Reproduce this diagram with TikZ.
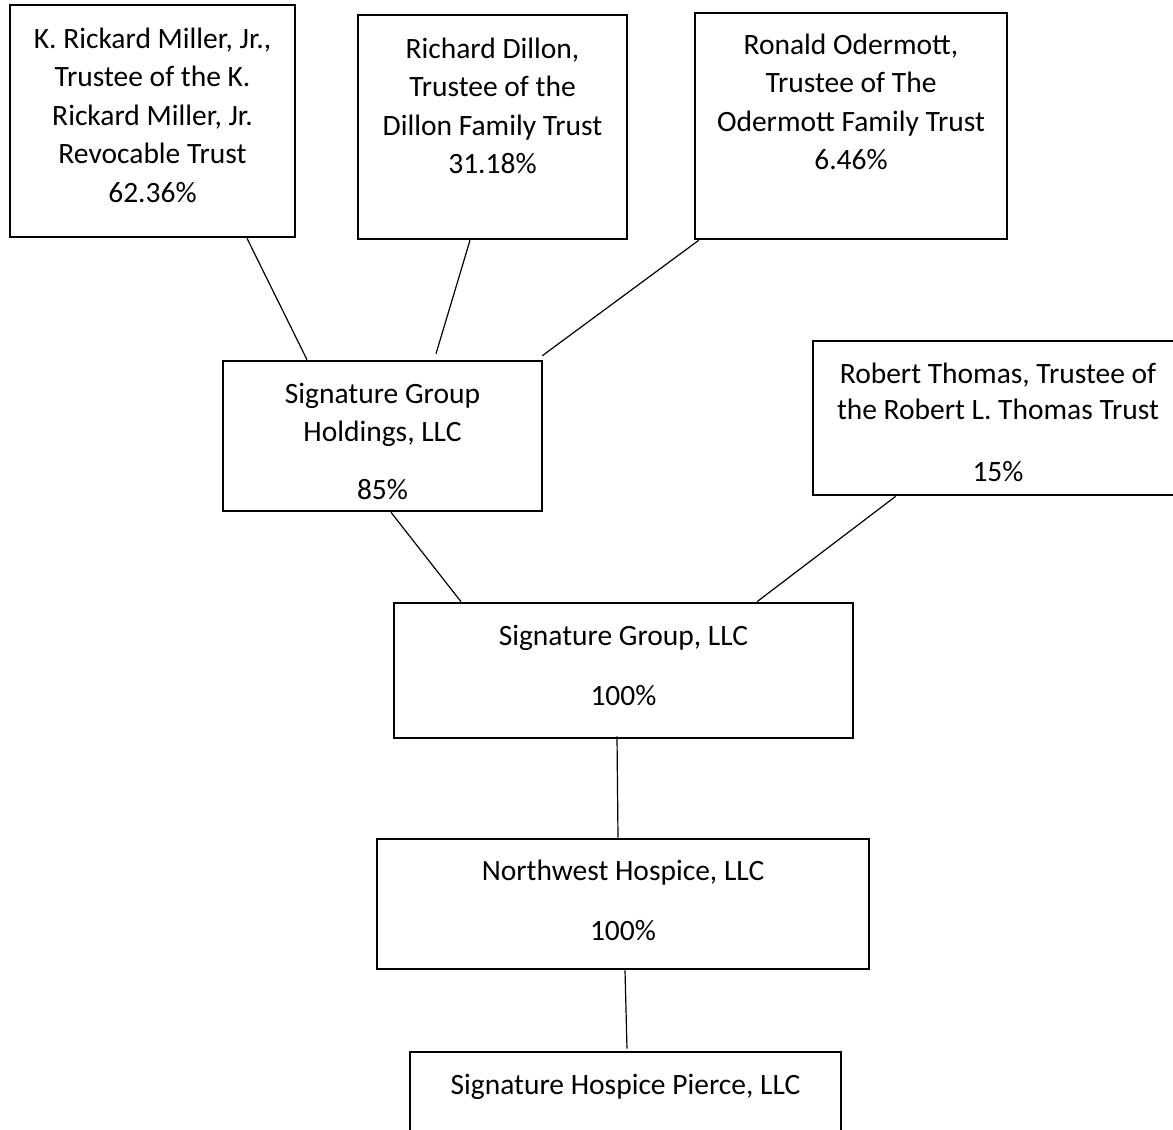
\documentclass[tikz,border=0pt]{standalone}
\usepackage{fontspec}
\setmainfont{Carlito}
\usepackage{tikz}

\tikzset{
  owner/.style={draw, line width=1.3pt, inner sep=0pt},
  ownertext/.style={anchor=north, align=center, inner sep=0pt,
    font=\fontsize{14.75}{19.25}\selectfont},
  link/.style={line width=0.6pt}
}

\begin{document}
\begin{tikzpicture}[x=0.5pt, y=-0.5pt]
    \useasboundingbox (0, 0) rectangle (1173, 1130);

    \node[owner, minimum width=142.5pt, minimum height=116pt] (miller) at (152.5, 121) {};
    \node[owner, minimum width=134.5pt, minimum height=112pt] (dillon) at (492.5, 127) {};
    \node[owner, minimum width=156pt, minimum height=113pt] (odermott) at (851, 126) {};
    \node[owner, minimum width=159.5pt, minimum height=75pt] (sgh) at (382.5, 436) {};
    \node[owner, minimum width=185pt, minimum height=77pt] (thomas) at (998, 418) {};
    \node[owner, minimum width=229.5pt, minimum height=67.5pt] (sg) at (623.5, 670.5) {};
    \node[owner, minimum width=246pt, minimum height=65pt] (nw) at (623, 904) {};
    \node[owner, minimum width=215.5pt, minimum height=54pt] (pierce) at (625.5, 1106) {};

    \node[ownertext] (millertext) at ([yshift=-11.75pt]miller.north)
      {K. Rickard Miller, Jr.,\\Trustee of the K.\\Rickard Miller, Jr.\\Revocable Trust\\62.36\%};
    \node[ownertext] (dillontext) at ([yshift=-11.75pt]dillon.north)
      {Richard Dillon,\\Trustee of the\\Dillon Family Trust\\31.18\%};
    \node[ownertext] (odermotttext) at ([yshift=-10.75pt]odermott.north)
      {Ronald Odermott,\\Trustee of The\\Odermott Family Trust\\6.46\%};
    \node[ownertext] (sghtext) at ([yshift=-11.5pt]sgh.north)
      {Signature Group\\Holdings, LLC\\[9.5pt]85\%};
    \node[ownertext, font=\fontsize{14.75}{18}\selectfont] (thomastext) at ([yshift=-11.5pt]thomas.north)
      {Robert Thomas, Trustee of\\the Robert L. Thomas Trust\\[13pt]15\%};
    \node[ownertext] (sgtext) at ([yshift=-11.5pt]sg.north)
      {Signature Group, LLC\\[10.75pt]100\%};
    \node[ownertext] (nwtext) at ([yshift=-10.75pt]nw.north)
      {Northwest Hospice, LLC\\[10.75pt]100\%};
    \node[ownertext] (piercetext) at ([yshift=-11.5pt]pierce.north)
      {Signature Hospice Pierce, LLC};

    \draw[link] ([xshift=47.25pt]miller.south) -- ([xshift=-37.75pt]sgh.north);
    \draw[link] ([xshift=-11.25pt]dillon.south) -- ([xshift=26.75pt, yshift=3pt]sgh.north);
    \draw[link] ([xshift=2.5pt]odermott.south west) -- ([xshift=-0.5pt, yshift=2pt]sgh.north east);
    \draw[link] ([xshift=4.25pt]sgh.south) -- ([xshift=-81.25pt]sg.north);
    \draw[link] ([xshift=42pt]thomas.south west) -- ([xshift=66.75pt]sg.north);
    \draw[link] ([xshift=-3.25pt, yshift=1.5pt]sg.south) -- ([xshift=-2.5pt]nw.north);
    \draw[link] ([xshift=1pt]nw.south) -- ([xshift=0.75pt, yshift=1pt]pierce.north);
  \end{tikzpicture}
\end{document}
